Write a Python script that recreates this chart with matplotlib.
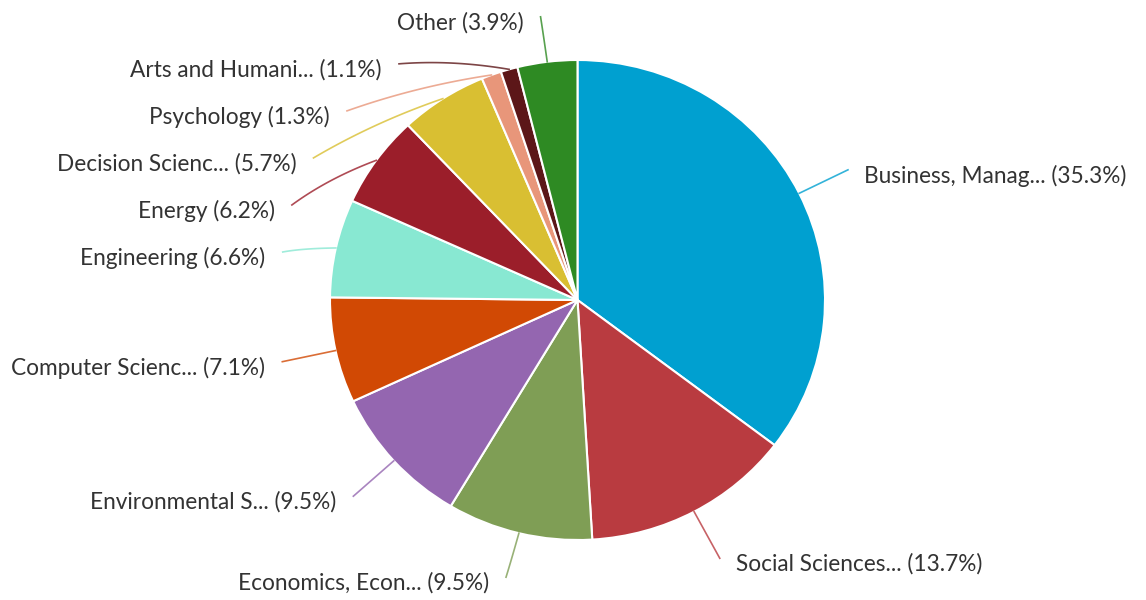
import numpy as np
from matplotlib import pyplot as plt

labels = ['Business, Manag...', 'Social Sciences...', 'Economics, Econ...',
          'Environmental S...', 'Computer Scienc...', 'Engineering', 'Energy',
          'Decision Scienc...', 'Psychology', 'Arts and Humani...', 'Other']
shares = [35.3, 13.7, 9.5, 9.5, 7.1, 6.6, 6.2, 5.7, 1.3, 1.1, 3.9]
colors = ['#00a0d0', '#b93b40', '#7f9e55', '#9466b0', '#d14904', '#88e8d2',
          '#9b1e2a', '#d9bf32', '#e8967a', '#5c1618', '#2e8a23']

plt.rcParams['font.family'] = ['Lato', 'DejaVu Sans']

fig = plt.figure(figsize=(11.46, 6), dpi=100)
ax = fig.add_axes([0, 0, 1, 1])
ax.set_axis_off()

wedges, _ = ax.pie(shares, colors=colors, startangle=90, counterclock=False,
                   radius=1.0, center=(0, 0),
                   wedgeprops=dict(edgecolor='white', linewidth=1.5))

# the reference pie is a bit wider than tall
ax.set_xlim(-577.5 / 247.5, (1146 - 577.5) / 247.5)
ax.set_ylim(-300 / 240, 300 / 240)
ax.set_aspect('auto')

# label positions: on a circle outside the pie, left side stacked from the top
r_lab = 1.22
gap = 0.196
mids = []
for w in wedges:
    a = np.deg2rad((w.theta1 + w.theta2) / 2)
    mids.append(a)
pos = {}
for i, a in enumerate(mids):
    pos[i] = [r_lab * np.cos(a), max(r_lab * np.sin(a), -1.155)]

left = [i for i in pos if pos[i][0] < 0]
left.sort(key=lambda i: -pos[i][1])
prev = None
for i in left:
    y_nat = pos[i][1]
    y = min(y_nat, 1.18)
    if prev is not None:
        y = min(y, prev - gap)
    if y_nat - y > 0.1:
        pos[i][0] = -np.sqrt(max(r_lab ** 2 - y ** 2, 0))
    pos[i][1] = y
    prev = y

for i, a in enumerate(mids):
    x2, y2 = pos[i]
    p0 = np.array([np.cos(a), np.sin(a)])
    p2 = np.array([x2, y2])
    p1 = 0.5 * (p0 + p2) + 0.03 * np.array([np.cos(a), np.sin(a)])
    t = np.linspace(0, 1, 30)[:, None]
    curve = (1 - t) ** 2 * p0 + 2 * (1 - t) * t * p1 + t ** 2 * p2
    ax.plot(curve[:, 0], curve[:, 1], color=colors[i], lw=1.2, alpha=0.8)
    txt = '%s (%.1f%%)' % (labels[i], shares[i])
    if x2 < 0:
        ax.text(x2 - 0.07, y2 - 0.025, txt, ha='right', va='center',
                fontsize=16.3, color='#333333')
    else:
        ax.text(x2 + 0.065, y2 - 0.025, txt, ha='left', va='center',
                fontsize=16.3, color='#333333')

plt.savefig('out.png', dpi=100, facecolor='white')
